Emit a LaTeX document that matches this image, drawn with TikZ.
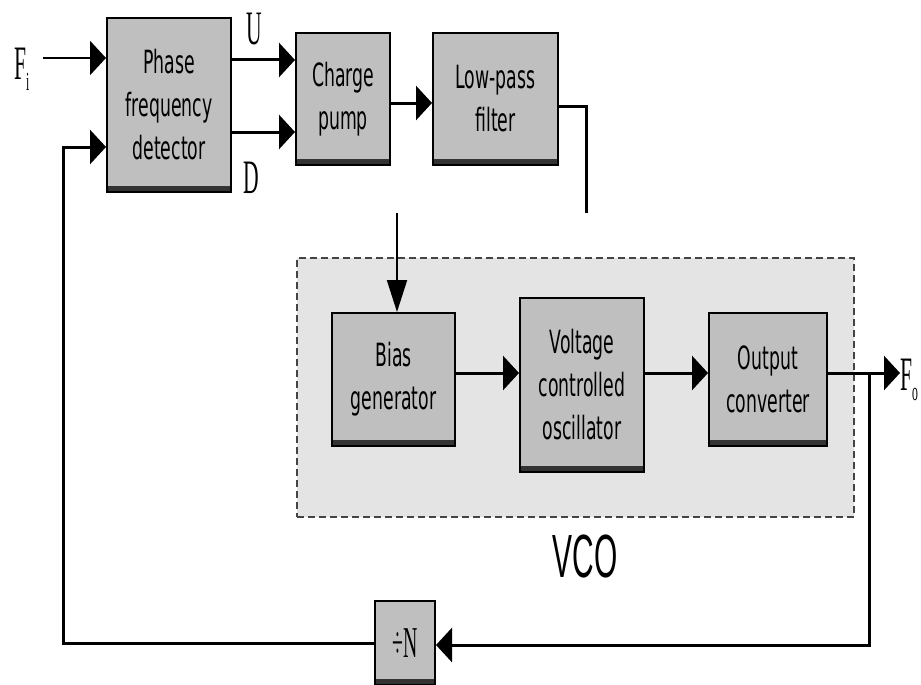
\documentclass[tikz,border=0pt]{standalone}
\usepackage{fontspec}
\setmainfont{DejaVu Sans}[FakeStretch=0.54]
\newfontfamily\lblfont{Liberation Serif}[FakeStretch=0.45]
\newfontfamily\vcofont{Liberation Sans}[FakeStretch=0.49]
\usetikzlibrary{arrows.meta}
\definecolor{boxgray}{HTML}{BFBFBF}
\definecolor{banddark}{HTML}{333333}
\definecolor{vcobg}{HTML}{E4E4E4}
\definecolor{dashgray}{HTML}{444444}
\begin{document}
\begin{tikzpicture}[x=1pt,y=-1pt,
  blk/.style={draw=black, line width=2pt, fill=boxgray, align=center, inner sep=0pt,
     font=\fontsize{32}{43}\selectfont,
     path picture={\fill[banddark] ([yshift=-1pt]path picture bounding box.south west) rectangle ([yshift=6pt]path picture bounding box.south east);}},
  conn/.style={line width=3pt, draw=black},
  harr/.style={conn, -{Triangle[length=16pt,width=34pt]}},
  varr/.style={conn, -{Triangle[length=32pt,width=20pt]}},
  lbl/.style={inner sep=0pt, font=\lblfont\fontsize{48}{48}\selectfont},
]
\useasboundingbox (0,0) rectangle (921,685);

% VCO region
\node[draw=dashgray, dash pattern=on 7pt off 4pt, line width=2pt, fill=vcobg,
      minimum width=557pt, minimum height=259pt, inner sep=0pt] (vcoreg) at (575.5,387.5) {};

% blocks
\node[blk, minimum width=124pt, minimum height=174pt] (pfd) at (169,105) {Phase\\frequency\\detector};
\node[blk, minimum width=94pt, minimum height=132pt] (cp) at (343,99) {Charge\\pump};
\node[blk, minimum width=125pt, minimum height=132pt] (lpf) at (495.5,99) {Low-pass\\filter};
\node[blk, minimum width=123pt, minimum height=133pt] (bias) at (393.5,379.5) {Bias\\generator};
\node[blk, minimum width=124pt, minimum height=174pt] (vco) at (582,385) {Voltage\\controlled\\oscillator};
\node[blk, minimum width=118pt, minimum height=133pt] (outc) at (768,379.5) {Output\\converter};
\node[blk, minimum width=60pt, minimum height=84pt, font=\lblfont\fontsize{44}{44}\selectfont] (divn) at (405,643) {÷N};

% labels
\node[lbl, anchor=base west] (fi) at (14,80) {F\raisebox{-10pt}{\fontsize{26}{26}\selectfont i}};
\node[lbl, anchor=base west] (u) at (246,45) {U};
\node[lbl, anchor=base west] (d) at (243,193) {D};
\node[lbl, anchor=base west] (fo) at (900,390) {F\raisebox{-10pt}{\fontsize{26}{26}\selectfont o}};
\node[inner sep=0pt, anchor=base, font=\vcofont\fontsize{61}{61}\selectfont] (vcolbl) at (585,577) {VCO};

% coordinates
\coordinate (fiS) at (43,58);
\coordinate (fbx) at (63,0);
\coordinate (lpfEnd) at (586,213);
\coordinate (biasS) at (397,213);
\coordinate (br) at (869,373);

% connectors
\draw[harr, line width=2.5pt] (fiS) -- (fiS -| pfd.west);
\draw[harr] (divn.west) -- (divn.west -| fbx) -- (fbx |- 0,147) -- (pfd.west |- 0,147);
\draw[harr] (pfd.east |- 0,60) -- (cp.west |- 0,60);
\draw[harr] (pfd.east |- 0,132) -- (cp.west |- 0,132);
\draw[harr] (cp.east |- 0,103) -- (lpf.west |- 0,103);
\draw[conn] (lpf.east |- 0,106) -| (lpfEnd);
\draw[varr, line width=2pt] (biasS) -- (biasS |- bias.north);
\draw[harr] (bias.east |- 0,373) -- (vco.west |- 0,373);
\draw[harr] (vco.east |- 0,373) -- (outc.west |- 0,373);
\draw[harr] (outc.east |- 0,373) -- (fo.west |- 0,373);
\draw[harr] (br) |- (divn.east |- 0,645);
\end{tikzpicture}
\end{document}
